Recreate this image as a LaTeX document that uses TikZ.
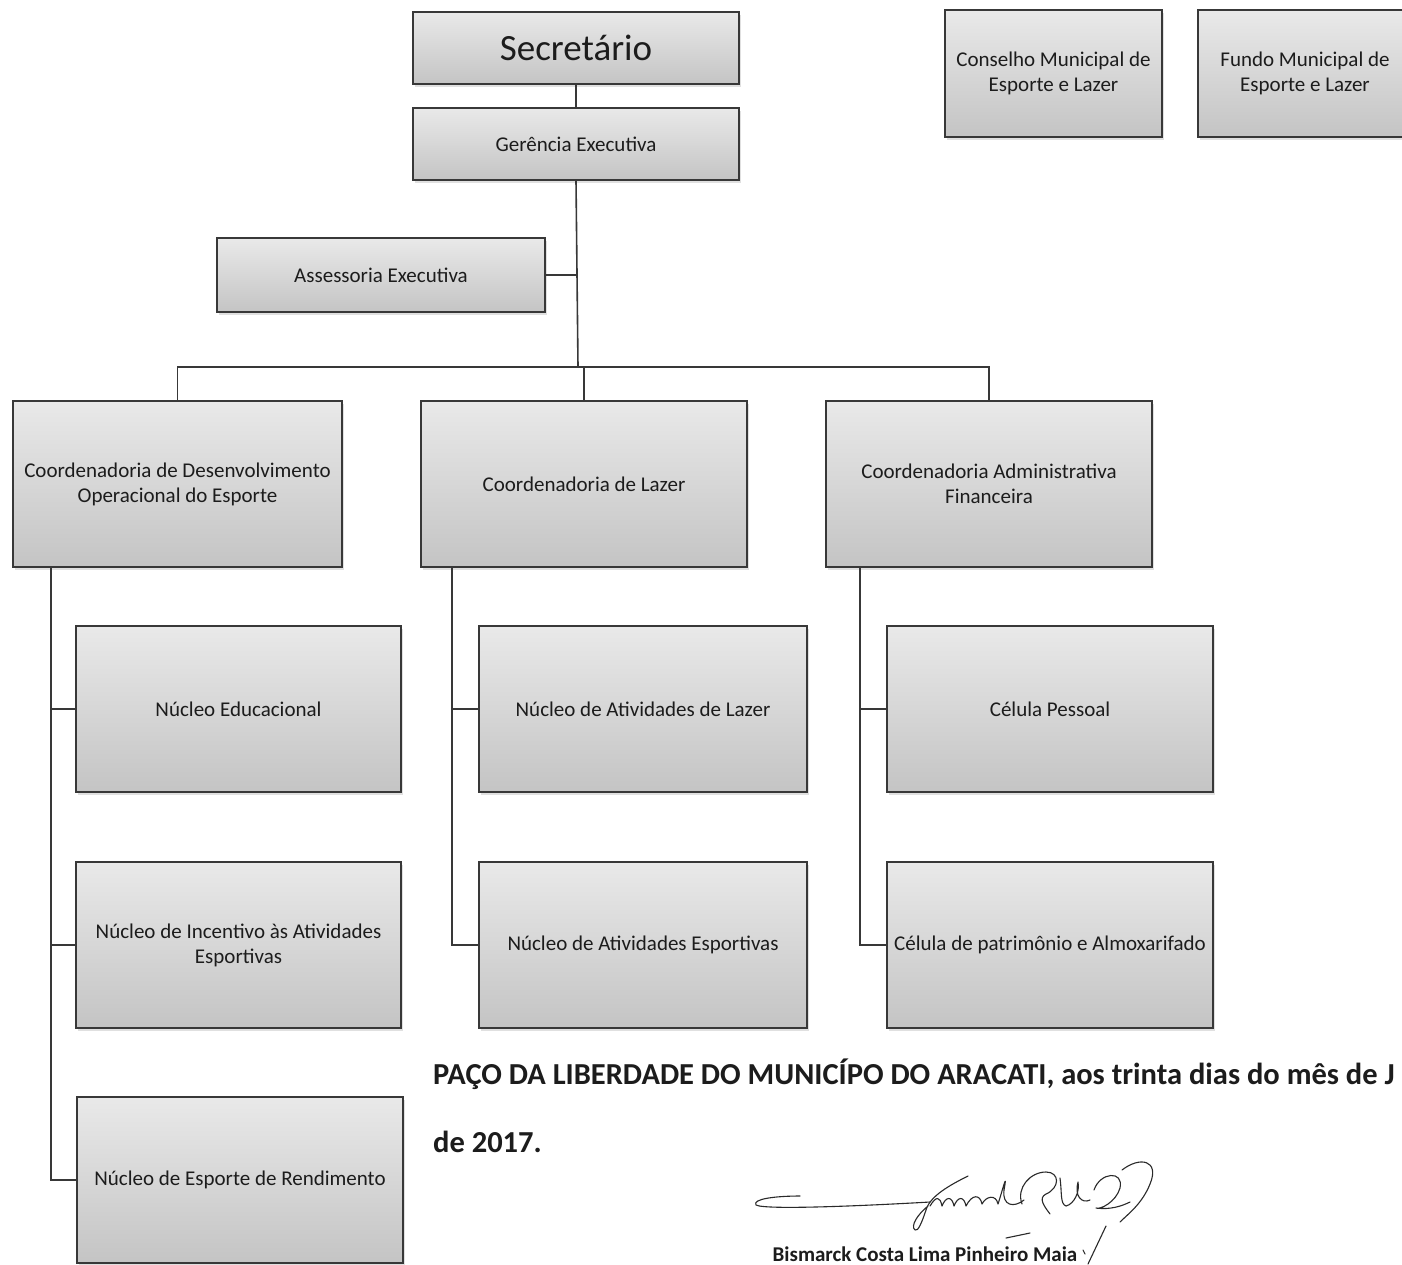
\documentclass[tikz,border=0pt]{standalone}
\usepackage{fontspec}
\setmainfont{Carlito}
\usetikzlibrary{shadows}

\definecolor{boxtop}{HTML}{E9E9E9}
\definecolor{boxbot}{HTML}{C4C4C4}
\definecolor{linec}{HTML}{383838}
\definecolor{txt}{HTML}{1C1C1C}
\definecolor{ink}{HTML}{2A2A2A}

\begin{document}
\begin{tikzpicture}[x=1pt,y=-1pt,
  orgbox/.style={draw=linec, line width=1.5pt, top color=boxtop, bottom color=boxbot,
    text=txt, font=\fontsize{21}{25}\selectfont, align=center, inner sep=2pt,
    drop shadow={shadow xshift=1.5pt, shadow yshift=-3pt, fill=black, opacity=0.12}},
  wide/.style={minimum width=326pt},
  tall/.style={minimum height=166pt},
  conn/.style={draw=linec, line width=1.6pt},
  doctext/.style={text=txt, font=\fontsize{30.5}{36}\selectfont\bfseries, anchor=base west, inner sep=0pt},
  sig/.style={draw=ink, line width=1.1pt, line cap=round, line join=round}]

\useasboundingbox (0,0) rectangle (1402,1264);
\fill[white] (0,0) rectangle (1402,1264);

% top level
\node[orgbox, wide, minimum height=72pt, font=\fontsize{37}{40}\selectfont] (sec) at (576,48) {Secretário};
\node[orgbox, wide, minimum height=72pt] (ger) at (576,144) {Gerência Executiva};
\node[orgbox, minimum width=217pt, minimum height=127pt] (cons) at (1053.5,73.5) {Conselho Municipal de\\Esporte e Lazer};
\node[orgbox, minimum width=214pt, minimum height=127pt] (fund) at (1305,73.5) {Fundo Municipal de\\Esporte e Lazer};
\node[orgbox, minimum width=328pt, minimum height=74pt] (ass) at (381,275) {Assessoria Executiva};

% coordinations
\node[orgbox, minimum width=329pt, tall] (cdoe) at (177.5,484) {Coordenadoria de Desenvolvimento\\Operacional do Esporte};
\node[orgbox, wide, tall] (clz) at (584,484) {Coordenadoria de Lazer};
\node[orgbox, wide, tall] (cadm) at (989,484) {Coordenadoria Administrativa\\Financeira};

% units
\node[orgbox, minimum width=325pt, tall] (ne) at (238.5,709) {Núcleo Educacional};
\node[orgbox, minimum width=325pt, tall] (ni) at (238.5,945) {Núcleo de Incentivo às Atividades\\Esportivas};
\node[orgbox, wide, tall] (nr) at (240,1180) {Núcleo de Esporte de Rendimento};
\node[orgbox, minimum width=328pt, tall] (nal) at (643,709) {Núcleo de Atividades de Lazer};
\node[orgbox, minimum width=328pt, tall] (nae) at (643,945) {Núcleo de Atividades Esportivas};
\node[orgbox, wide, tall] (cp) at (1050,709) {Célula Pessoal};
\node[orgbox, wide, tall] (cpa) at (1050,945) {Célula de patrimônio e Almoxarifado};

% connectors
\coordinate (bar) at (578,367);
\draw[conn] (sec.south) -- (ger.north);
\draw[conn] (ger.south) -- (bar);
\draw[conn] (ass.east) -- (ass.east -| bar);
\draw[conn] (cdoe.north) -- (cdoe.north |- bar) -- (cadm.north |- bar) -- (cadm.north);
\draw[conn] (clz.north) -- (clz.north |- bar);

\path (cdoe.south west) ++(39,0) coordinate (sL);
\path (clz.south west) ++(32,0) coordinate (sM);
\path (cadm.south west) ++(35,0) coordinate (sR);

\draw[conn] (sL) |- (nr.west);
\draw[conn] (ne.west) -- (ne.west -| sL);
\draw[conn] (ni.west) -- (ni.west -| sL);
\draw[conn] (sM) |- (nae.west);
\draw[conn] (nal.west) -- (nal.west -| sM);
\draw[conn] (sR) |- (cpa.west);
\draw[conn] (cp.west) -- (cp.west -| sR);

% closing text
\node[doctext] (paco) at (433,1084) {PAÇO DA LIBERDADE DO MUNICÍPO DO ARACATI, aos trinta dias do mês de J};
\node[doctext] (ano) at (433,1152) {de 2017.};
\node[text=txt, font=\fontsize{21}{24}\selectfont\bfseries, anchor=base, inner sep=0pt] (nome) at (925,1261) {Bismarck Costa Lima Pinheiro Maia};

% signature
\draw[sig] (800,1196) .. controls (775,1196) and (752,1199) .. (756,1205)
  .. controls (765,1210) and (860,1206) .. (930,1202);
\draw[sig] (968,1176) .. controls (950,1185) and (930,1196) .. (926,1210)
  .. controls (922,1222) and (918,1232) .. (915,1230)
  .. controls (910,1226) and (918,1214) .. (928,1206);
\draw[sig] (930,1206) .. controls (936,1196) and (940,1196) .. (942,1206)
  .. controls (946,1196) and (952,1196) .. (954,1206)
  .. controls (958,1196) and (964,1196) .. (966,1206)
  .. controls (972,1194) and (980,1194) .. (982,1204)
  .. controls (986,1196) and (996,1194) .. (998,1204)
  .. controls (1002,1192) and (1008,1168) .. (1004,1190)
  .. controls (1002,1206) and (1014,1208) .. (1024,1200);
\draw[sig] (1022,1204) .. controls (1016,1188) and (1030,1172) .. (1046,1172)
  .. controls (1060,1172) and (1060,1188) .. (1046,1194)
  .. controls (1038,1198) and (1044,1206) .. (1050,1214);
\draw[sig] (1060,1178) .. controls (1062,1192) and (1060,1204) .. (1066,1206)
  .. controls (1074,1204) and (1080,1192) .. (1078,1182)
  .. controls (1074,1196) and (1082,1204) .. (1090,1200);
\draw[sig] (1094,1190) .. controls (1100,1172) and (1124,1170) .. (1120,1188)
  .. controls (1116,1202) and (1100,1210) .. (1096,1208)
  .. controls (1110,1210) and (1122,1206) .. (1130,1202);
\draw[sig] (1122,1170) .. controls (1140,1156) and (1160,1160) .. (1150,1184)
  .. controls (1142,1204) and (1128,1214) .. (1120,1222);
\draw[sig] (1106,1226) -- (1088,1264);
\draw[sig] (1006,1238) -- (1030,1233);
\draw[sig] (1083,1250) -- (1085,1254);

\end{tikzpicture}
\end{document}
